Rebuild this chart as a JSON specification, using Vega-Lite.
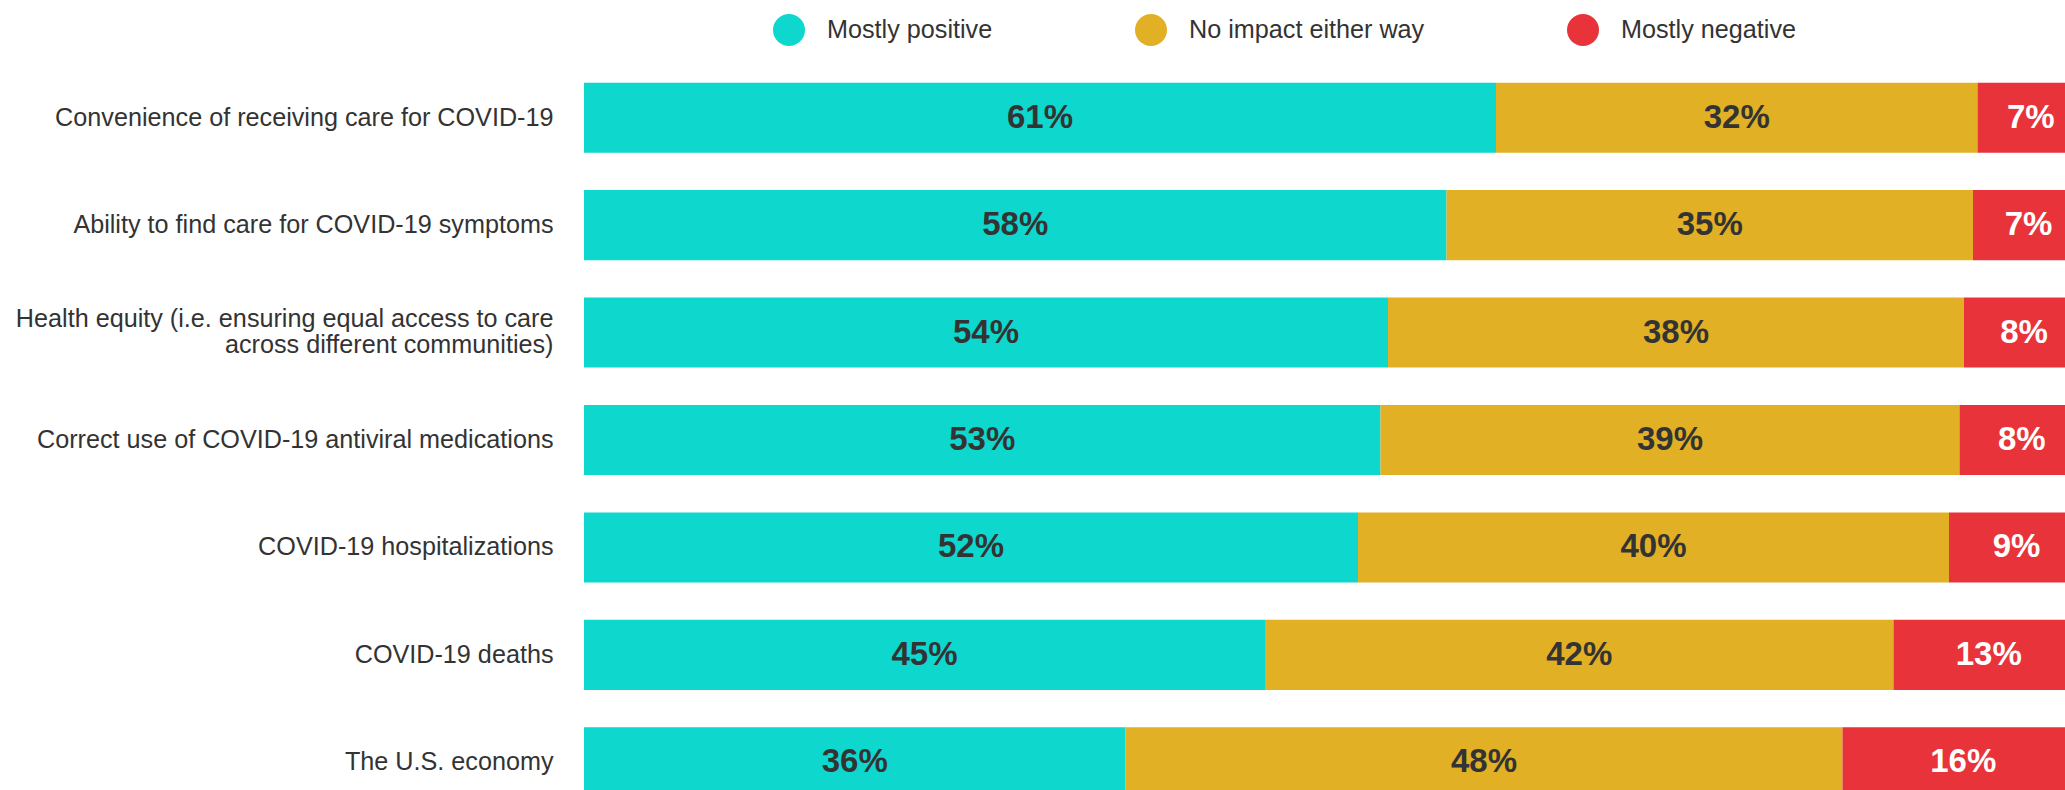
{
  "$schema": "https://vega.github.io/schema/vega-lite/v6.json",
  "width": 1500,
  "height": 752,
  "padding": {"left": 0, "top": 14, "right": 0, "bottom": 0},
  "background": "white",
  "config": {"view": {"stroke": null}, "font": "Liberation Sans"},
  "data": {
    "values": [
      {"row": 1, "item": "Convenience of receiving care for COVID-19", "response": "Mostly positive", "order": 1, "value": 60.8, "label": "61%"},
      {"row": 1, "item": "Convenience of receiving care for COVID-19", "response": "No impact either way", "order": 2, "value": 32.1, "label": "32%"},
      {"row": 1, "item": "Convenience of receiving care for COVID-19", "response": "Mostly negative", "order": 3, "value": 7.1, "label": "7%"},
      {"row": 2, "item": "Ability to find care for COVID-19 symptoms", "response": "Mostly positive", "order": 1, "value": 57.5, "label": "58%"},
      {"row": 2, "item": "Ability to find care for COVID-19 symptoms", "response": "No impact either way", "order": 2, "value": 35.1, "label": "35%"},
      {"row": 2, "item": "Ability to find care for COVID-19 symptoms", "response": "Mostly negative", "order": 3, "value": 7.4, "label": "7%"},
      {"row": 3, "item": "Health equity (i.e. ensuring equal access to care|across different communities)", "response": "Mostly positive", "order": 1, "value": 53.6, "label": "54%"},
      {"row": 3, "item": "Health equity (i.e. ensuring equal access to care|across different communities)", "response": "No impact either way", "order": 2, "value": 38.4, "label": "38%"},
      {"row": 3, "item": "Health equity (i.e. ensuring equal access to care|across different communities)", "response": "Mostly negative", "order": 3, "value": 8.0, "label": "8%"},
      {"row": 4, "item": "Correct use of COVID-19 antiviral medications", "response": "Mostly positive", "order": 1, "value": 53.1, "label": "53%"},
      {"row": 4, "item": "Correct use of COVID-19 antiviral medications", "response": "No impact either way", "order": 2, "value": 38.6, "label": "39%"},
      {"row": 4, "item": "Correct use of COVID-19 antiviral medications", "response": "Mostly negative", "order": 3, "value": 8.3, "label": "8%"},
      {"row": 5, "item": "COVID-19 hospitalizations", "response": "Mostly positive", "order": 1, "value": 51.6, "label": "52%"},
      {"row": 5, "item": "COVID-19 hospitalizations", "response": "No impact either way", "order": 2, "value": 39.4, "label": "40%"},
      {"row": 5, "item": "COVID-19 hospitalizations", "response": "Mostly negative", "order": 3, "value": 9.0, "label": "9%"},
      {"row": 6, "item": "COVID-19 deaths", "response": "Mostly positive", "order": 1, "value": 45.4, "label": "45%"},
      {"row": 6, "item": "COVID-19 deaths", "response": "No impact either way", "order": 2, "value": 41.9, "label": "42%"},
      {"row": 6, "item": "COVID-19 deaths", "response": "Mostly negative", "order": 3, "value": 12.7, "label": "13%"},
      {"row": 7, "item": "The U.S. economy", "response": "Mostly positive", "order": 1, "value": 36.1, "label": "36%"},
      {"row": 7, "item": "The U.S. economy", "response": "No impact either way", "order": 2, "value": 47.8, "label": "48%"},
      {"row": 7, "item": "The U.S. economy", "response": "Mostly negative", "order": 3, "value": 16.1, "label": "16%"}
    ]
  },
  "transform": [
    {"stack": "value", "groupby": ["item"], "sort": [{"field": "order", "order": "ascending"}], "as": ["v0", "v1"]},
    {"calculate": "(datum.v0 + datum.v1) / 2", "as": "mid"}
  ],
  "encoding": {
    "y": {
      "field": "item",
      "type": "nominal",
      "sort": {"field": "row", "op": "min"},
      "title": null,
      "scale": {"paddingInner": 0.348, "paddingOuter": 0.174},
      "axis": {
        "domain": false,
        "ticks": false,
        "labelFont": "Liberation Sans",
        "labelFontSize": 25.2,
        "labelColor": "#333333",
        "labelPadding": 31,
        "labelLimit": 800,
        "labelLineHeight": 26,
        "labelExpr": "split(datum.value, '|')",
        "labelOffset": {"condition": {"test": "indexof(datum.value, '|') >= 0", "value": -14}, "value": 0},
        "minExtent": 584,
        "maxExtent": 584
      }
    }
  },
  "layer": [
    {
      "mark": {"type": "bar"},
      "encoding": {
        "x": {"field": "v0", "type": "quantitative", "scale": {"domain": [0, 100]}, "axis": null},
        "x2": {"field": "v1"},
        "color": {
          "field": "response",
          "type": "nominal",
          "sort": ["Mostly positive", "No impact either way", "Mostly negative"],
          "scale": {"domain": ["Mostly positive", "No impact either way", "Mostly negative"], "range": ["#0ED7CE", "#E1B024", "#E8333A"]},
          "legend": {
            "title": null,
            "orient": "none",
            "legendX": 189,
            "legendY": -50,
            "direction": "horizontal",
            "symbolType": "circle",
            "symbolSize": 1024,
            "symbolStrokeWidth": 0,
            "symbolOpacity": 1,
            "labelFont": "Liberation Sans",
            "labelFontSize": 25.2,
            "labelColor": "#333333",
            "labelOffset": 22,
            "labelLimit": 500,
            "columnPadding": 142
          }
        }
      }
    },
    {
      "mark": {"type": "text", "font": "Liberation Sans", "fontWeight": "bold", "fontSize": 33, "align": "center", "baseline": "middle"},
      "encoding": {
        "x": {"field": "mid", "type": "quantitative", "scale": {"domain": [0, 100]}},
        "text": {"field": "label", "type": "nominal"},
        "color": {
          "condition": {"test": "datum.response === 'Mostly negative'", "value": "#FFFFFF"},
          "value": "#333333"
        }
      }
    }
  ]
}
